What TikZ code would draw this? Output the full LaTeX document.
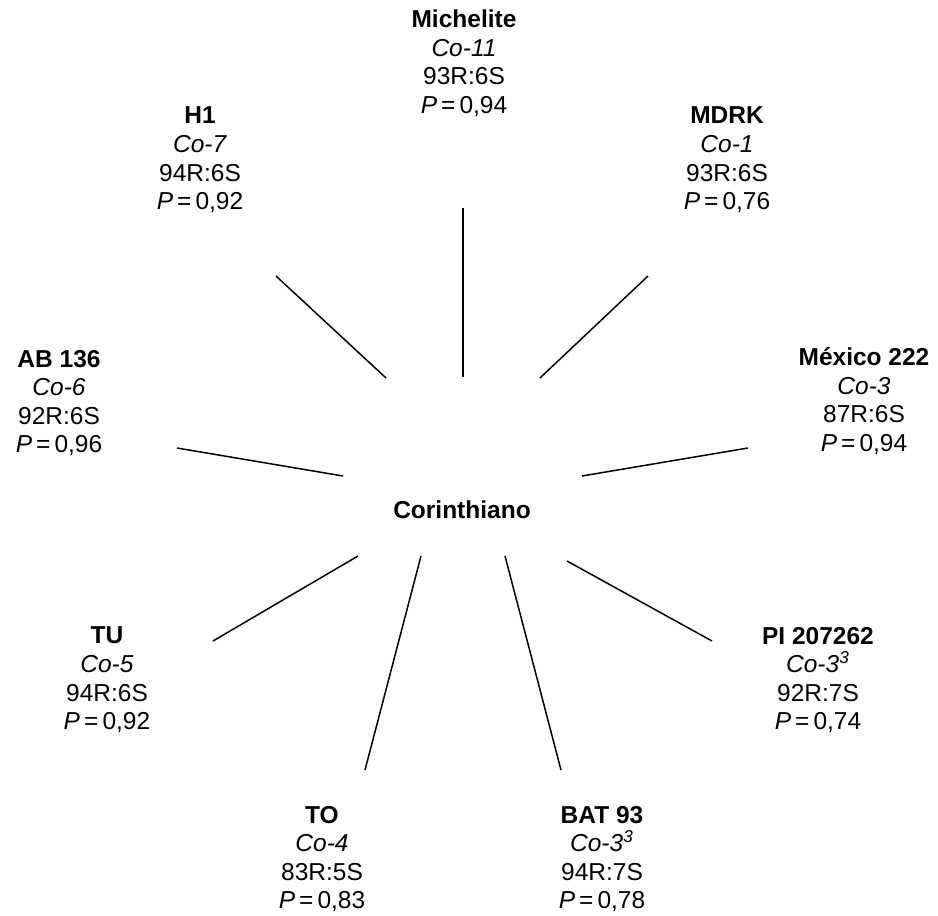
\documentclass[tikz,border=0pt]{standalone}
\usepackage{fontspec}
\setmainfont{Liberation Sans}
\usepackage{tikz}
\usetikzlibrary{positioning}

\tikzset{
  cultivar/.style={align=center, inner sep=0pt, font=\fontsize{12.25}{14.3}\selectfont},
  link/.style={line width=0.75pt}
}

\begin{document}
\begin{tikzpicture}[x=0.5pt, y=-0.5pt]
    \useasboundingbox (0,0) rectangle (938,916);

    % the central cultivar
    \node[cultivar] (cor) at (462,510) {\textbf{Corinthiano}};

    % the cultivars around it
    \node[cultivar] (mich) at (464,63) {\textbf{Michelite}\\\textit{Co-11}\\93R:6S\\\textit{P}\,=\,0,94};
    \node[cultivar] (h1) at (200,160) {\textbf{H1}\\\textit{Co-7}\\94R:6S\\\textit{P}\,=\,0,92};
    \node[cultivar] (mdrk) at (727,160) {\textbf{MDRK}\\\textit{Co-1}\\93R:6S\\\textit{P}\,=\,0,76};
    \node[cultivar] (ab) at (59,403) {\textbf{AB 136}\\\textit{Co-6}\\92R:6S\\\textit{P}\,=\,0,96};
    \node[cultivar] (mex) at (864,401) {\textbf{México 222}\\\textit{Co-3}\\87R:6S\\\textit{P}\,=\,0,94};
    \node[cultivar] (tu) at (107,680) {\textbf{TU}\\\textit{Co-5}\\94R:6S\\\textit{P}\,=\,0,92};
    \node[cultivar] (pi) at (818,680) {\textbf{PI 207262}\\\textit{Co-3\textsuperscript{3}}\\92R:7S\\\textit{P}\,=\,0,74};
    \node[cultivar] (to) at (322,859) {\textbf{TO}\\\textit{Co-4}\\83R:5S\\\textit{P}\,=\,0,83};
    \node[cultivar] (bat) at (602,859) {\textbf{BAT 93}\\\textit{Co-3\textsuperscript{3}}\\94R:7S\\\textit{P}\,=\,0,78};

    % end points of the spokes
    \coordinate (mich-a) at (463,208);  \coordinate (mich-b) at (463,377);
    \coordinate (h1-a) at (276,276);    \coordinate (h1-b) at (386,378);
    \coordinate (mdrk-a) at (648,276);  \coordinate (mdrk-b) at (540,378);
    \coordinate (ab-a) at (177,448);    \coordinate (ab-b) at (343,476);
    \coordinate (mex-a) at (748,448);   \coordinate (mex-b) at (582,476);
    \coordinate (tu-a) at (213,641);    \coordinate (tu-b) at (358,556);
    \coordinate (pi-a) at (712,641);    \coordinate (pi-b) at (567,561);
    \coordinate (to-a) at (365,770);    \coordinate (to-b) at (421,556);
    \coordinate (bat-a) at (561,770);   \coordinate (bat-b) at (505,556);

    % draw the spokes
    \foreach \c in {mich, h1, mdrk, ab, mex, tu, pi, to, bat}
      \draw[link] (\c-a) -- (\c-b);

\end{tikzpicture}
\end{document}
